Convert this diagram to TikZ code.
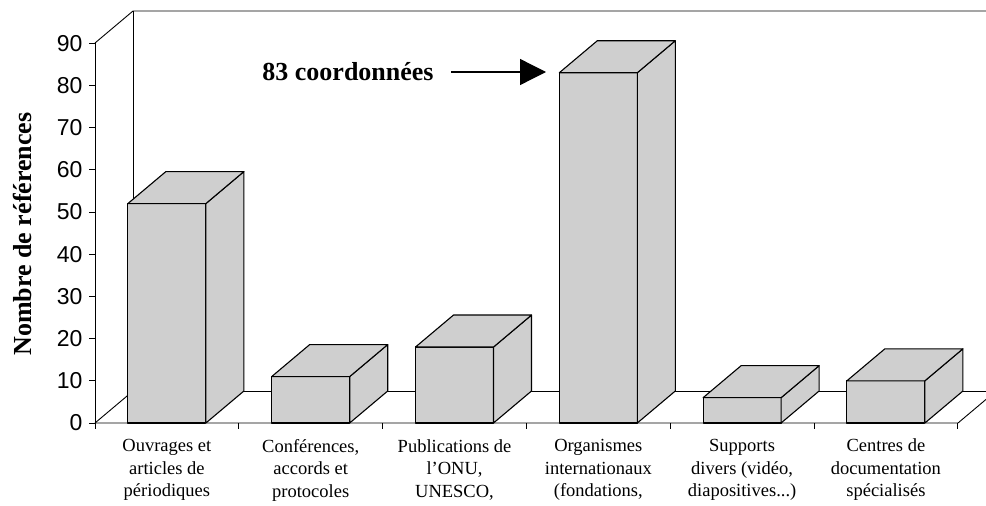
\documentclass[tikz,border=0pt]{standalone}
\usepackage{fontspec}
\setmainfont{Liberation Serif}
\newfontfamily\axisfont{Liberation Sans}
\usetikzlibrary{arrows.meta}
\tikzset{
  face/.style={draw, line width=1.1pt, fill=gray!38, line join=round},
  catlabel/.style={align=center, font=\fontsize{18.5}{22.5}\selectfont},
  graduation/.style={anchor=east, font=\axisfont\fontsize{23}{23}\selectfont},
}
\begin{document}
\begin{tikzpicture}[x=1pt,y=-1pt,>={Triangle[length=26pt,width=26pt]}]
\useasboundingbox (0,0) rectangle (986,506);
\clip (0,0) rectangle (986,506);
% parois et plancher
\draw[line width=0.9pt] (95,43)--(133,11)--(1000,11);
\draw[line width=0.9pt] (133,11)--(133,391)--(1000,391);
\draw[line width=0.9pt] (95,43)--(95,429);
\draw[line width=0.9pt] (95,423)--(133,391);
\draw[line width=0.9pt] (95,423)--(958,423)--(996,391);
% graduations
\foreach \v in {0,10,...,90}{
  \draw[line width=0.9pt] (89,{423-4.22*\v})--(95,{423-4.22*\v});
  \node[graduation] (g\v) at (86,{423-4.22*\v}) {\v};
}
\foreach \i in {0,...,6}
  \draw[line width=0.9pt] ({95+143.8*\i},423)--({95+143.8*\i},429);
% barres
\foreach \i/\v in {0/52,1/11,2/18,3/83,4/6,5/10}{
  \pgfmathsetmacro\L{127.9+143.8*\i}
  \pgfmathsetmacro\H{423-4.22*\v}
  \draw[face] (\L,423) rectangle (\L+78,\H);
  \draw[face] (\L+78,423)--(\L+116,391)--(\L+116,\H-32)--(\L+78,\H)--cycle;
  \draw[face] (\L,\H)--(\L+38,\H-32)--(\L+116,\H-32)--(\L+78,\H)--cycle;
}
% titres
\node[rotate=90, font=\bfseries\fontsize{26}{26}\selectfont] (titre) at (22,234) {Nombre de références};
\node[font=\bfseries\fontsize{26}{26}\selectfont] (note) at (348,72) {83 coordonnées};
\coordinate (pointe) at (546,72);
\draw[->, line width=1.3pt, shorten <=14pt] (note.east) -- (pointe);

\node[catlabel] (c1) at (166.9,470) {Ouvrages et\\articles de\\périodiques};
\node[catlabel] (c2) at (310.7,470) {Conférences,\\accords et\\protocoles};
\node[catlabel] (c3) at (454.5,470) {Publications de\\l'ONU,\\UNESCO,};
\node[catlabel] (c4) at (598.3,470) {Organismes\\internationaux\\(fondations,};
\node[catlabel] (c5) at (742.1,470) {Supports\\divers (vidéo,\\diapositives...)};
\node[catlabel] (c6) at (885.9,470) {Centres de\\documentation\\spécialisés};
\end{tikzpicture}
\end{document}
